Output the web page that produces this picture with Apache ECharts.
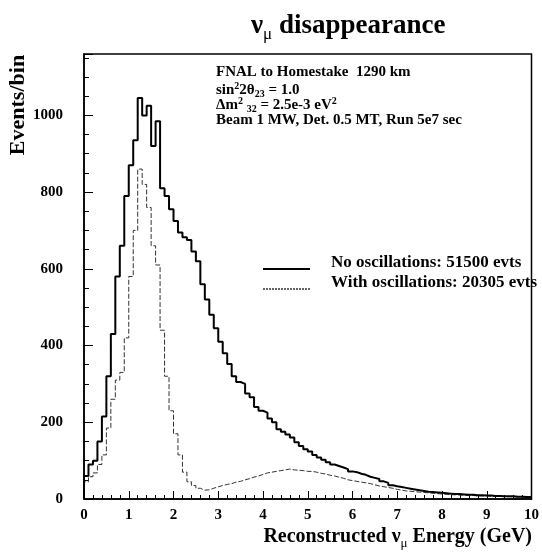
<!DOCTYPE html>
<html>
<head>
<meta charset="utf-8">
<script src="https://cdn.jsdelivr.net/npm/echarts@6/dist/echarts.min.js"></script>
<style>
html,body{margin:0;padding:0;background:#fff;}
#c{width:542px;height:553px;}
</style>
</head>
<body>
<div id="c"></div>
<script>
const binWidth = 0.1;
const noOsc = [
  60, 90, 100, 150, 215, 320, 430, 580, 660, 790,
  870, 935, 1045, 1000, 1025, 920, 985, 810, 790, 755,
  725, 695, 682, 675, 645, 620, 560, 520, 480, 445,
  410, 380, 352, 320, 305, 300, 275, 265, 240, 230,
  225, 210, 200, 182, 175, 168, 160, 148, 138, 130,
  124, 115, 108, 102, 96, 90, 86, 82, 78, 72,
  70, 66, 63, 58, 55, 52, 46, 42, 36, 33,
  31, 29, 27, 25, 23, 21, 19, 18, 17, 16,
  15, 14, 13, 13, 12, 11, 11, 10, 10, 9,
  9, 8, 8, 7, 7, 7, 6, 6, 5, 5
];
const withOsc = [
  45, 58, 68, 90, 115, 185, 260, 310, 330, 420,
  580, 700, 860, 820, 760, 660, 610, 440, 320, 230,
  170, 115, 70, 45, 35, 28, 23, 24, 28, 32,
  35, 38, 40, 44, 46, 50, 53, 57, 60, 64,
  68, 70, 72, 74, 76, 78, 76, 75, 74, 72,
  72, 70, 67, 65, 62, 60, 57, 54, 50, 48,
  46, 44, 42, 40, 37, 34, 32, 30, 28, 25,
  23, 21, 20, 19, 18, 17, 16, 15, 14, 13,
  12, 11, 11, 10, 10, 9, 9, 8, 8, 8,
  7, 7, 7, 6, 6, 6, 5, 5, 5, 5
];
const xTicks = [0,1,2,3,4,5,6,7,8,9,10];
const yTicks = [0,200,400,600,800,1000];
const legendNames = ['No oscillations: 51500 evts', 'With oscillations: 20305 evts'];

function toSteps(vals){
  const d = [[0,0]];
  vals.forEach((v,i)=>d.push([+(i*binWidth).toFixed(2), v]));
  d.push([+(vals.length*binWidth).toFixed(2), vals[vals.length-1]]);
  return d;
}

const serif = '"Liberation Serif","Times New Roman",serif';
const solidStyle = {color:'#000', width:2};
const dashStyle = {color:'#333', width:1, type:[5,2]};
const chart = echarts.init(document.getElementById('c'), null, {renderer:'canvas'});
chart.setOption({
  animation:false,
  backgroundColor:'#fff',
  title:{
    text:'{a|ν}{s|μ}{a| disappearance}',
    left:246, top:4,
    textStyle:{
      rich:{
        a:{fontFamily:serif, fontWeight:'bold', fontSize:27, color:'#000', lineHeight:34},
        s:{fontFamily:serif, fontWeight:'normal', fontSize:17, color:'#000', lineHeight:34, verticalAlign:'bottom', padding:[14,0,0,0]}
      }
    }
  },
  grid:{left:84, right:9, top:54, bottom:54, show:true, borderColor:'#000', borderWidth:1.5, backgroundColor:'transparent'},
  xAxis:{
    type:'value', min:xTicks[0], max:xTicks[xTicks.length-1], interval:1,
    axisLine:{show:true, lineStyle:{color:'#000', width:1.5}},
    axisTick:{show:true, inside:true, length:8, lineStyle:{color:'#000', width:1}},
    minorTick:{show:true, splitNumber:5, length:4, lineStyle:{color:'#000'}},
    splitLine:{show:false},
    axisLabel:{fontFamily:serif, fontWeight:'bold', fontSize:15, color:'#000', margin:9}
  },
  yAxis:{
    type:'value', min:yTicks[0], max:1160, interval:200,
    axisLine:{show:true, lineStyle:{color:'#000', width:1.5}},
    axisTick:{show:true, inside:true, length:9, lineStyle:{color:'#000', width:1}},
    minorTick:{show:true, splitNumber:4, length:5, lineStyle:{color:'#000'}},
    splitLine:{show:false},
    axisLabel:{fontFamily:serif, fontWeight:'bold', fontSize:15, color:'#000', margin:21, showMaxLabel:false,
      formatter:function(v){return String(v);}}
  },
  series:[
    {name:legendNames[0], type:'line', step:'end', showSymbol:false, symbol:'none',
     data:toSteps(noOsc), lineStyle:solidStyle, itemStyle:{color:'#000'}, z:3},
    {name:legendNames[1], type:'line', step:'end', showSymbol:false, symbol:'none',
     data:toSteps(withOsc), lineStyle:dashStyle, itemStyle:{color:'#333'}, z:2}
  ],
  graphic:[
    {type:'text', left:216, top:65, style:{text:'FNAL to Homestake  1290 km', fontFamily:serif, fontWeight:'bold', fontSize:15, fill:'#000'}},
    {type:'text', left:216, top:81, style:{
      text:'{b|sin}{p|2}{b|2θ}{d|23}{b| = 1.0}',
      rich:{
        b:{fontFamily:serif, fontWeight:'bold', fontSize:15, lineHeight:18, verticalAlign:'middle'},
        p:{fontFamily:serif, fontWeight:'bold', fontSize:10, lineHeight:18, verticalAlign:'top'},
        d:{fontFamily:serif, fontWeight:'bold', fontSize:10, lineHeight:18, verticalAlign:'bottom'}
      }}},
    {type:'text', left:216, top:96, style:{
      text:'{b|Δm}{p|2}{b| }{d|32}{b| = 2.5e-3 eV}{p|2}',
      rich:{
        b:{fontFamily:serif, fontWeight:'bold', fontSize:15, lineHeight:18, verticalAlign:'middle'},
        p:{fontFamily:serif, fontWeight:'bold', fontSize:10, lineHeight:18, verticalAlign:'top'},
        d:{fontFamily:serif, fontWeight:'bold', fontSize:10, lineHeight:18, verticalAlign:'bottom'}
      }}},
    {type:'text', left:216, top:113, style:{text:'Beam 1 MW, Det. 0.5 MT, Run 5e7 sec', fontFamily:serif, fontWeight:'bold', fontSize:15, fill:'#000'}},
    {type:'text', x:18, y:105, rotation:Math.PI/2, style:{text:'Events/bin', fontFamily:serif, fontWeight:'bold', fontSize:22, fill:'#000', align:'center', verticalAlign:'middle'}},
    {type:'text', right:10, top:527, style:{
      text:'{b|Reconstructed ν}{d|μ}{b| Energy (GeV)}',
      rich:{
        b:{fontFamily:serif, fontWeight:'bold', fontSize:20, lineHeight:26, verticalAlign:'middle'},
        d:{fontFamily:serif, fontWeight:'normal', fontSize:13, lineHeight:26, verticalAlign:'bottom'}
      }}},
    {type:'line', shape:{x1:263, y1:269, x2:310, y2:269}, style:{stroke:'#000', lineWidth:2}},
    {type:'line', shape:{x1:263, y1:289, x2:310, y2:289}, style:{stroke:'#333', lineWidth:1.5, lineDash:[2,1]}},
    {type:'text', left:331, top:254, style:{text:legendNames[0], fontFamily:serif, fontWeight:'bold', fontSize:17, fill:'#000'}},
    {type:'text', left:331, top:274, style:{text:legendNames[1], fontFamily:serif, fontWeight:'bold', fontSize:17, fill:'#000'}}
  ]
});
</script>
</body>
</html>
